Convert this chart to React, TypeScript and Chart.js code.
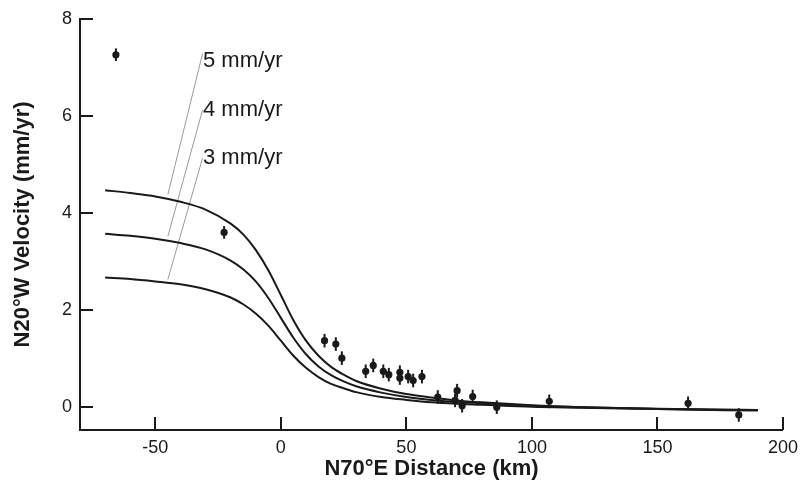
import React, { useEffect, useRef } from "react";
import { Chart, registerables } from "chart.js";

Chart.register(...registerables);

// Model curves (N20°W velocity, mm/yr)
const curveX = [-70, -60, -50, -40, -30, -20, -15, -10, -5, 0, 5, 10, 15, 20, 25, 30, 40, 50, 60, 70, 80, 100, 120, 150, 190];
const curve5 = [4.47, 4.41, 4.34, 4.23, 4.07, 3.78, 3.56, 3.24, 2.82, 2.31, 1.79, 1.37, 1.06, 0.83, 0.67, 0.54, 0.38, 0.27, 0.2, 0.14, 0.1, 0.04, 0.0, -0.04, -0.07];
const curve4 = [3.57, 3.53, 3.47, 3.38, 3.25, 3.02, 2.84, 2.59, 2.25, 1.84, 1.43, 1.09, 0.84, 0.66, 0.53, 0.43, 0.3, 0.21, 0.15, 0.11, 0.08, 0.03, 0.0, -0.03, -0.06];
const curve3 = [2.67, 2.64, 2.59, 2.53, 2.43, 2.26, 2.12, 1.93, 1.68, 1.37, 1.06, 0.81, 0.62, 0.48, 0.39, 0.31, 0.21, 0.15, 0.1, 0.07, 0.05, 0.01, -0.01, -0.04, -0.06];

// Observed velocities with error bars
const obsX = [-65.7, -22.6, 17.4, 21.9, 24.3, 33.8, 36.8, 40.8, 43.0, 47.4, 47.4, 50.7, 52.7, 56.2, 62.5, 69.4, 70.2, 72.2, 76.4, 86.0, 106.9, 162.2, 182.4];
const obsV = [7.26, 3.6, 1.37, 1.3, 1.01, 0.74, 0.86, 0.74, 0.67, 0.72, 0.6, 0.63, 0.55, 0.63, 0.21, 0.14, 0.34, 0.03, 0.22, 0.0, 0.12, 0.08, -0.16];
const obsErr = [0.13, 0.13, 0.14, 0.14, 0.14, 0.14, 0.14, 0.14, 0.14, 0.14, 0.14, 0.14, 0.14, 0.14, 0.14, 0.14, 0.14, 0.14, 0.14, 0.14, 0.14, 0.14, 0.14];

// Curve labels and leader lines
const labelTexts = ["5 mm/yr", "4 mm/yr", "3 mm/yr"];
const labelX = -31.0;
const labelY = [7.0, 6.0, 5.0];
const leaderTopX = -31.2;
const leaderBottomX = -45.0;
const leaderTopY = [7.28, 6.12, 5.13];
const leaderBottomY = [4.38, 3.52, 2.63];

const xTicks = [-50, 0, 50, 100, 150, 200];
const yTicks = [0, 2, 4, 6, 8];

const FONT = "'Liberation Sans', Arial, Helvetica, sans-serif";
const INK = "#1a1a1a";

const decorPlugin = {
  id: "decor",
  afterDatasetsDraw(chart: any) {
    const { ctx, scales } = chart;
    const xs = scales.x;
    const ys = scales.y;
    const area = chart.chartArea;
    ctx.save();
    // error bars
    ctx.strokeStyle = INK;
    ctx.lineWidth = 2;
    obsX.forEach((x, i) => {
      const px = xs.getPixelForValue(x);
      ctx.beginPath();
      ctx.moveTo(px, ys.getPixelForValue(obsV[i] - obsErr[i]));
      ctx.lineTo(px, ys.getPixelForValue(obsV[i] + obsErr[i]));
      ctx.stroke();
    });
    // inward ticks
    ctx.lineWidth = 2;
    ctx.strokeStyle = INK;
    xTicks.forEach((t) => {
      const px = Math.round(xs.getPixelForValue(t));
      ctx.beginPath();
      ctx.moveTo(px, area.bottom);
      ctx.lineTo(px, area.bottom - 13);
      ctx.stroke();
    });
    yTicks.forEach((t) => {
      const py = Math.round(ys.getPixelForValue(t));
      ctx.beginPath();
      ctx.moveTo(area.left, py);
      ctx.lineTo(area.left + 13, py);
      ctx.stroke();
    });
    // labels
    ctx.fillStyle = INK;
    ctx.font = `22px ${FONT}`;
    ctx.textAlign = "left";
    ctx.textBaseline = "alphabetic";
    labelTexts.forEach((t, i) => {
      ctx.fillText(t, xs.getPixelForValue(labelX), ys.getPixelForValue(labelY[i]));
    });
    ctx.restore();
  },
};

export default function App() {
  const ref = useRef<HTMLCanvasElement>(null);
  useEffect(() => {
    if (!ref.current) return;
    const lineDs = (data: number[]) => ({
      data: curveX.map((x, i) => ({ x, y: data[i] })),
      showLine: true,
      borderColor: INK,
      borderWidth: 2,
      pointRadius: 0,
      cubicInterpolationMode: "monotone" as const,
      fill: false,
    });
    const leaders = leaderTopY.map((ty, i) => ({
      data: [
        { x: leaderTopX, y: ty },
        { x: leaderBottomX, y: leaderBottomY[i] },
      ],
      showLine: true,
      borderColor: "#9a9a9a",
      borderWidth: 1,
      pointRadius: 0,
      fill: false,
    }));
    const chart = new Chart(ref.current, {
      type: "scatter",
      data: {
        datasets: [
          lineDs(curve5),
          lineDs(curve4),
          lineDs(curve3),
          ...leaders,
          {
            data: obsX.map((x, i) => ({ x, y: obsV[i] })),
            showLine: false,
            pointRadius: 3.6,
            pointBackgroundColor: INK,
            pointBorderColor: INK,
            pointBorderWidth: 0,
          },
        ] as any,
      },
      options: {
        animation: false,
        responsive: false,
        maintainAspectRatio: false,
        layout: { padding: { top: 17, right: 18, left: 0, bottom: 0 } },
        plugins: { legend: { display: false }, tooltip: { enabled: false } },
        scales: {
          x: {
            type: "linear",
            min: -80,
            max: 200,
            afterFit: (s: any) => {
              s.height = 53;
            },
            afterBuildTicks: (s: any) => {
              s.ticks = xTicks.map((v) => ({ value: v }));
            },
            grid: { display: false, drawTicks: false },
            border: { display: true, color: INK, width: 2 },
            ticks: { color: INK, font: { family: FONT, size: 18 }, padding: 7, maxRotation: 0, autoSkip: false },
            title: {
              display: true,
              text: "N70°E Distance (km)",
              color: INK,
              font: { family: FONT, size: 22, weight: "bold" },
              padding: { top: 0, bottom: 1 },
            },
          },
          y: {
            type: "linear",
            min: -0.47,
            max: 8,
            afterFit: (s: any) => {
              s.width = 80;
            },
            afterBuildTicks: (s: any) => {
              s.ticks = yTicks.map((v) => ({ value: v }));
            },
            grid: { display: false, drawTicks: false },
            border: { display: true, color: INK, width: 2 },
            ticks: { color: INK, font: { family: FONT, size: 18 }, padding: 8, autoSkip: false },
            title: {
              display: true,
              text: "N20°W Velocity (mm/yr)",
              color: INK,
              font: { family: FONT, size: 22, weight: "bold" },
              padding: { top: 10, bottom: 0 },
            },
          },
        },
      },
      plugins: [decorPlugin],
    });
    return () => chart.destroy();
  }, []);
  return (
    <div style={{ position: "absolute", left: 0, top: 0, width: 805, height: 483, background: "#fff" }}>
      <canvas ref={ref} width={805} height={483} style={{ width: 805, height: 483 }} />
    </div>
  );
}
